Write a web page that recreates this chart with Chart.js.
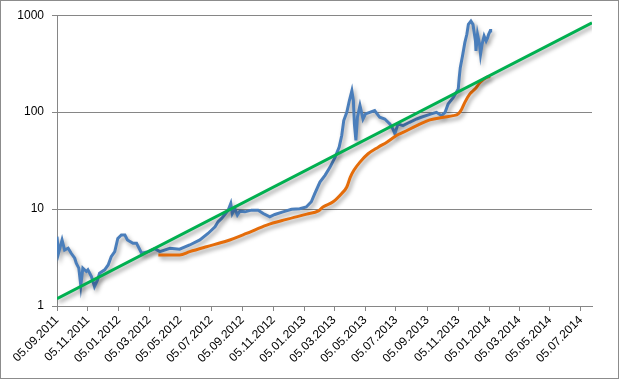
<!DOCTYPE html>
<html>
<head>
<meta charset="utf-8">
<script src="https://cdn.jsdelivr.net/npm/chart.js@4"></script>
<style>
  html, body { margin: 0; padding: 0; background: #fff; }
  #wrap { width: 619px; height: 379px; position: relative; }
</style>
</head>
<body>
<div id="wrap"><canvas id="chart"></canvas></div>
<script>
// tick dates on the x axis
const tickDates = ["2011-09-05", "2011-11-05", "2012-01-05", "2012-03-05", "2012-05-05", "2012-07-05",
  "2012-09-05", "2012-11-05", "2013-01-05", "2013-03-05", "2013-05-05", "2013-07-05",
  "2013-09-05", "2013-11-05", "2014-01-05", "2014-03-05", "2014-05-05", "2014-07-05"];
const axisEnd = "2014-07-27";
const yTicks = [1, 10, 100, 1000];

// blue series (price)
const blueDates = ["2011-09-05", "2011-09-08", "2011-09-15", "2011-09-20", "2011-09-27", "2011-10-03",
  "2011-10-10", "2011-10-13", "2011-10-18", "2011-10-22", "2011-10-26", "2011-11-02", "2011-11-05",
  "2011-11-12", "2011-11-18", "2011-11-24", "2011-11-28", "2011-12-08", "2011-12-15", "2011-12-21",
  "2011-12-28", "2012-01-03", "2012-01-10", "2012-01-17", "2012-01-22", "2012-02-02", "2012-02-09",
  "2012-02-19", "2012-03-03", "2012-03-16", "2012-03-26", "2012-04-15", "2012-05-04", "2012-05-24",
  "2012-06-13", "2012-06-29", "2012-07-13", "2012-07-19", "2012-07-26", "2012-08-08", "2012-08-13",
  "2012-08-16", "2012-08-21", "2012-08-26", "2012-08-31", "2012-09-10", "2012-09-23", "2012-10-06",
  "2012-10-16", "2012-10-29", "2012-11-08", "2012-11-24", "2012-12-11", "2012-12-27", "2013-01-09",
  "2013-01-19", "2013-01-26", "2013-02-05", "2013-02-15", "2013-02-25", "2013-03-07", "2013-03-15",
  "2013-03-20", "2013-03-24", "2013-03-30", "2013-04-04", "2013-04-09", "2013-04-12", "2013-04-14",
  "2013-04-17", "2013-04-20", "2013-04-25", "2013-05-01", "2013-05-06", "2013-05-24", "2013-06-03",
  "2013-06-13", "2013-06-23", "2013-06-29", "2013-07-03", "2013-07-09", "2013-07-19", "2013-08-01",
  "2013-08-15", "2013-08-24", "2013-09-13", "2013-09-23", "2013-10-03", "2013-10-10", "2013-10-16",
  "2013-10-26", "2013-11-05", "2013-11-07", "2013-11-09", "2013-11-14", "2013-11-18", "2013-11-22",
  "2013-11-25", "2013-11-30", "2013-12-04", "2013-12-06", "2013-12-09", "2013-12-10", "2013-12-13",
  "2013-12-17", "2013-12-19", "2013-12-22", "2013-12-26", "2013-12-30", "2014-01-02", "2014-01-04",
  "2014-01-07", "2014-01-08"];
const blueValues = [5.18, 3.5, 4.8, 3.78, 3.94, 3.5,
  3.11, 2.76, 2.46, 1.62, 2.46, 2.27, 2.36,
  2.01, 1.59, 1.86, 2.18, 2.36, 2.65, 3.23,
  3.64, 4.98, 5.4, 5.4, 4.8, 4.43, 4.43,
  3.5, 3.64, 3.9, 3.64, 3.94, 3.85, 4.26,
  4.8, 5.6, 6.56, 7.39, 8.0, 9.75, 11.4,
  9.0, 10.1, 8.67, 9.5, 9.36, 9.75, 9.75,
  9.0, 8.3, 8.8, 9.36, 9.96, 10.1, 10.5,
  11.9, 14.5, 19, 22.3, 27.1, 34.3, 43.5,
  57.4, 81.8, 99.6, 131, 166, 131, 75.7,
  51, 88.5, 117, 85, 95.8, 104, 88.5,
  85, 75.7, 67.2, 59.7, 75.7, 72.7, 78.6,
  85, 88.5, 95.8, 99.6, 92, 99.6, 121,
  141, 173, 228, 288, 396, 521, 635,
  805, 869, 805, 687, 542, 428, 635,
  501, 396, 501, 610, 542, 586, 635,
  687, 720];

// orange series (smoothed)
const orangeDates = ["2012-03-23", "2012-05-04", "2012-05-24", "2012-06-26", "2012-08-05", "2012-09-13",
  "2012-10-23", "2012-12-01", "2013-01-10", "2013-02-02", "2013-02-11", "2013-03-03", "2013-03-20",
  "2013-03-30", "2013-04-06", "2013-04-13", "2013-04-25", "2013-05-11", "2013-05-31", "2013-06-17",
  "2013-07-06", "2013-07-20", "2013-08-15", "2013-09-10", "2013-10-07", "2013-10-26", "2013-11-05",
  "2013-11-12", "2013-11-18", "2013-11-28", "2013-12-08", "2013-12-18", "2013-12-31", "2014-01-07"];
const orangeValues = [3.36, 3.36, 3.64, 4.09, 4.68, 5.6,
  6.84, 7.82, 8.87, 9.58, 10.5, 11.9, 14.5,
  16.9, 21.4, 25.1, 30.5, 37.2, 43.5, 49,
  57.4, 62.1, 72.7, 83.2, 88.5, 92, 95.8,
  108, 126, 154, 173, 202, 228, 233];

// green series (trend)
const greenDates = ["2011-09-05", "2014-07-27"];
const greenValues = [1.19, 836];

const t0 = Date.parse(tickDates[0]);
const dayNum = s => (Date.parse(s) - t0) / 864e5;
const toPoints = (dates, vals) => dates.map((d, i) => ({ x: dayNum(d), y: vals[i] }));
const fmtDate = s => { const p = s.split("-"); return p[2] + "." + p[1] + "." + p[0]; };

const shadowPlugin = {
  id: "shadow",
  beforeDatasetDraw(chart) {
    const c = chart.ctx;
    c.save();
    c.shadowColor = "rgba(0,0,0,0.38)";
    c.shadowBlur = 4;
    c.shadowOffsetX = 2;
    c.shadowOffsetY = 3;
  },
  afterDatasetDraw(chart) {
    chart.ctx.restore();
  }
};

const framePlugin = {
  id: "frame",
  afterDraw(chart) {
    const c = chart.ctx;
    c.save();
    c.strokeStyle = "#8c8c8c";
    c.lineWidth = 1;
    c.strokeRect(0.5, 0.5, chart.width - 1, chart.height - 1);
    c.restore();
  }
};

const ctx = document.getElementById("chart").getContext("2d");
new Chart(ctx, {
  type: "line",
  data: {
    datasets: [
      {
        data: toPoints(greenDates, greenValues),
        borderColor: "#00b050",
        borderWidth: 3,
        pointRadius: 0,
        order: 0
      },
      {
        data: toPoints(orangeDates, orangeValues),
        borderColor: "#e46c0a",
        borderWidth: 3,
        pointRadius: 0,
        cubicInterpolationMode: "monotone",
        order: 1
      },
      {
        data: toPoints(blueDates, blueValues),
        borderColor: "#4a7ebb",
        borderWidth: 3,
        pointRadius: 0,
        order: 2
      }
    ]
  },
  options: {
    responsive: true,
    maintainAspectRatio: false,
    animation: false,
    layout: { padding: { left: 0, top: 14, right: 27, bottom: 0 } },
    plugins: {
      legend: { display: false },
      tooltip: { enabled: false }
    },
    scales: {
      x: {
        type: "linear",
        min: 0,
        max: dayNum(axisEnd),
        afterBuildTicks: scale => { scale.ticks = tickDates.map(d => ({ value: dayNum(d) })); },
        afterFit: scale => { scale.height = 73; },
        ticks: {
          autoSkip: false,
          minRotation: 45,
          maxRotation: 45,
          padding: 2,
          color: "#000",
          font: { family: "Liberation Sans", size: 12 },
          callback: (v, i) => fmtDate(tickDates[i])
        },
        grid: { drawOnChartArea: false, drawTicks: true, tickLength: 5, color: "#868686" },
        border: { display: true, color: "#868686" }
      },
      y: {
        type: "logarithmic",
        min: 1,
        max: 1000,
        afterBuildTicks: scale => { scale.ticks = yTicks.map(v => ({ value: v })); },
        afterFit: scale => { scale.width = 57; },
        ticks: {
          padding: 8,
          color: "#000",
          font: { family: "Liberation Sans", size: 12 },
          callback: v => String(v)
        },
        grid: { color: "#868686", tickLength: 5 },
        border: { display: true, color: "#868686" }
      }
    }
  },
  plugins: [shadowPlugin, framePlugin]
});
</script>
</body>
</html>
